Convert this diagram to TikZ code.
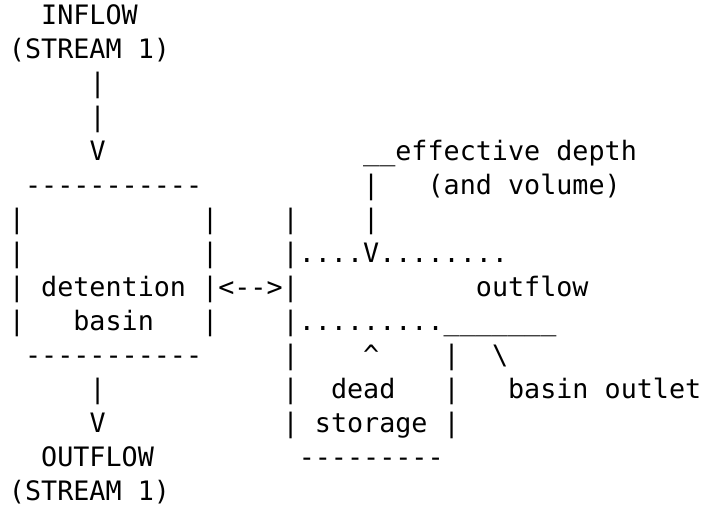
\documentclass[tikz,border=0pt]{standalone}
\usepackage{fontspec}
\setmonofont{DejaVu Sans Mono}
\tikzset{
  asc/.style={anchor=base west,inner sep=0pt,outer sep=0pt,text=black,
    font=\ttfamily\fontsize{26.74pt}{32pt}\selectfont}
}
\newcommand\asctxt[4]{\node[asc] (#1) at ({9pt+16.1pt*#2},{-24.5pt-34pt*#3}) {#4};}
\begin{document}
\begin{tikzpicture}
\fill[white] (0,0) rectangle (701pt,-514pt);
\useasboundingbox (0,0) rectangle (701pt,-514pt);
% row 0-1
\asctxt{inflow}{2}{0}{INFLOW}
\asctxt{instream}{0}{1}{(STREAM 1)}
\asctxt{inbarA}{5}{2}{|}
\asctxt{inbarB}{5}{3}{|}
\asctxt{inV}{5}{4}{V}
\asctxt{effdepth}{22}{4}{\_\_effective depth}
\asctxt{boxtop}{1}{5}{-----------}
\asctxt{effbarA}{22}{5}{|}
\asctxt{andvol}{26}{5}{(and volume)}
% row 6
\asctxt{bl6}{0}{6}{|}
\asctxt{br6}{12}{6}{|}
\asctxt{wl6}{17}{6}{|}
\asctxt{effbarB}{22}{6}{|}
% row 7
\asctxt{bl7}{0}{7}{|}
\asctxt{br7}{12}{7}{|}
\asctxt{level1}{17}{7}{|....V........}
% row 8
\asctxt{bl8}{0}{8}{|}
\asctxt{detention}{2}{8}{detention}
\asctxt{link}{12}{8}{|<-->|}
\asctxt{outflowlbl}{29}{8}{outflow}
% row 9
\asctxt{bl9}{0}{9}{|}
\asctxt{basin}{4}{9}{basin}
\asctxt{br9}{12}{9}{|}
\asctxt{level2}{17}{9}{|.........\_\_\_\_\_\_\_}
% row 10
\asctxt{boxbot}{1}{10}{-----------}
\asctxt{wl10}{17}{10}{|}
\asctxt{caret}{22}{10}{\textasciicircum}
\asctxt{dr10}{27}{10}{|}
\asctxt{slash}{30}{10}{\textbackslash}
% row 11
\asctxt{outbar}{5}{11}{|}
\asctxt{wl11}{17}{11}{|}
\asctxt{dead}{20}{11}{dead}
\asctxt{dr11}{27}{11}{|}
\asctxt{outlet}{31}{11}{basin outlet}
% row 12
\asctxt{outV}{5}{12}{V}
\asctxt{wl12}{17}{12}{|}
\asctxt{storage}{19}{12}{storage}
\asctxt{dr12}{27}{12}{|}
% row 13-14
\asctxt{outflow}{2}{13}{OUTFLOW}
\asctxt{deadbot}{18}{13}{---------}
\asctxt{outstream}{0}{14}{(STREAM 1)}
\end{tikzpicture}
\end{document}
